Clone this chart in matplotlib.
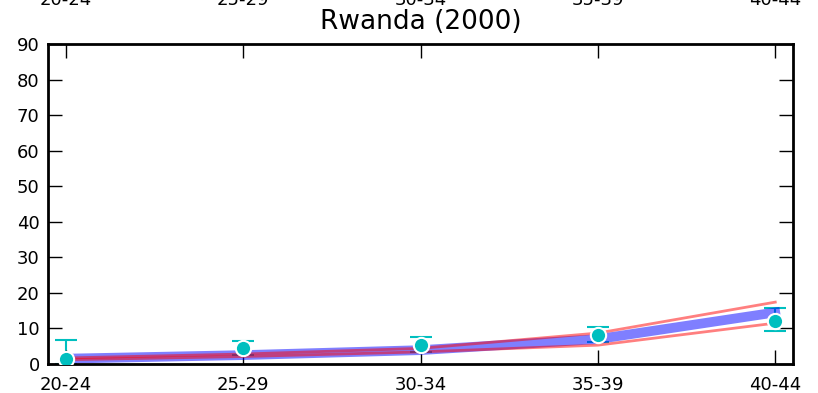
import matplotlib
matplotlib.use('Agg')
import matplotlib.pyplot as plt
import numpy as np

# 年龄组
age_groups = ['20-24', '25-29', '30-34', '35-39', '40-44']

# 观测值及误差范围
obs_value = [1.4, 4.5, 5.3, 8.2, 12.1]
obs_lower = [0.0, 2.5, 3.5, 6.2, 9.3]
obs_upper = [6.8, 6.5, 7.5, 10.4, 15.7]

# 模型中位数与上下界
model_mid = [1.5, 2.5, 3.9, 7.0, 14.5]
model_low = [1.2, 2.1, 3.4, 5.3, 11.5]
model_high = [1.7, 2.8, 4.4, 8.7, 17.4]

title = 'Rwanda (2000)'
yticks = list(range(0, 91, 10))

fig = plt.figure(figsize=(8.18, 3.93), dpi=100)
ax = fig.add_axes([48 / 818, 29 / 393, 745 / 818, 320 / 393])

x = np.arange(len(age_groups))
obs = np.array(obs_value)
err = [obs - np.array(obs_lower), np.array(obs_upper) - obs]

cyan = (0.0, 0.75, 0.75)

# 误差线（在模型线下面）
ax.errorbar(x, obs, yerr=err, fmt='none', ecolor=cyan, elinewidth=1.5,
            capsize=8, capthick=1.5, zorder=1)

# 模型中位数与上下界（红线盖在蓝线上）
ax.plot(x, model_mid, color='b', alpha=0.5, linewidth=7, zorder=2)
ax.plot(x, model_low, color='r', alpha=0.5, linewidth=2, zorder=3)
ax.plot(x, model_high, color='r', alpha=0.5, linewidth=2, zorder=3)

# 观测点
ax.plot(x, obs, 'o', color=cyan, markeredgecolor='white',
        markeredgewidth=1.5, markersize=11, zorder=4)

ax.set_xlim(-0.1, 4.1)
ax.set_ylim(0, 90)
ax.set_xticks(x)
ax.set_xticklabels(age_groups)
ax.set_yticks(yticks)

for side in ['top', 'bottom', 'left', 'right']:
    ax.spines[side].set_linewidth(2)

ax.tick_params(direction='in', length=10, width=1, top=True, right=True,
               labelsize=13)
ax.tick_params(axis='x', pad=9)
ax.tick_params(axis='y', pad=6)

# 顶部刻度标签（被裁掉一半）
sec = ax.secondary_xaxis('top')
sec.set_xticks(x)
sec.set_xticklabels(age_groups)
sec.tick_params(length=0, labelsize=13, pad=25)
sec.spines['top'].set_visible(False)

fig.text(420.5 / 818, 1 - 22 / 393, title, ha='center', va='center',
         fontsize=19)

fig.savefig('out.png', dpi=100)
